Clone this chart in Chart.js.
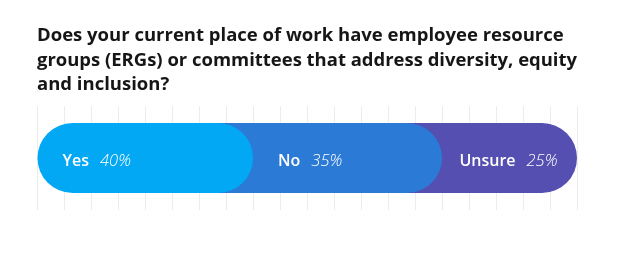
<!DOCTYPE html>
<html>
<head>
<meta charset="utf-8">
<script src="https://cdn.jsdelivr.net/npm/chart.js@4/dist/chart.umd.min.js"></script>
<style>
  html,body{margin:0;padding:0;background:#fff;}
  #wrap{position:relative;width:623px;height:271px;}
</style>
</head>
<body>
<div id="wrap"><canvas id="c" width="623" height="271"></canvas></div>
<script>
const titleLines = [
  "Does your current place of work have employee resource",
  "groups (ERGs) or committees that address diversity, equity",
  "and inclusion?"
];
const categories = ["Yes", "No", "Unsure"];
const percents = [40, 35, 25];
const percentLabels = ["40%", "35%", "25%"];
const colors = ["#03a8f5", "#2a7ad6", "#544fb1"];

const FAMILY = '"Open Sans", Lato, sans-serif';

// fit title font so that the first line is ~527px wide
const mctx = document.createElement('canvas').getContext('2d');
mctx.font = 'bold 100px ' + FAMILY;
const titleSize = Math.round(100 * 527 / mctx.measureText(titleLines[0]).width * 10) / 10;

// Each segment is a rounded pill; later segments start halfway under the previous one
let cum = 0;
const datasets = categories.map((cat, i) => {
  const start = i === 0 ? 0 : cum - percents[i - 1] / 2;
  const end = cum + percents[i];
  cum = end;
  return {
    label: cat,
    data: [[start, end]],
    backgroundColor: colors[i],
    borderWidth: 0,
    borderSkipped: false,
    borderRadius: i === 0
      ? {topLeft: 40, bottomLeft: 40, topRight: 40, bottomRight: 40}
      : {topLeft: 0, bottomLeft: 0, topRight: 40, bottomRight: 40},
    barThickness: 70,
    grouped: false,
    inflateAmount: 0
  };
});

const labelPlugin = {
  id: 'segLabels',
  afterDatasetsDraw(chart) {
    const ctx = chart.ctx;
    ctx.save();
    const n = categories.length;
    let prevEnd = null;
    for (let i = 0; i < n; i++) {
      const bar = chart.getDatasetMeta(i).data[0];
      const visStart = i === 0 ? bar.base : prevEnd;
      const end = bar.x;
      const y = bar.y + 8;
      const fb = '600 16px ' + FAMILY;
      const fi = 'italic 300 16.5px ' + FAMILY;
      ctx.font = fb;
      const w1 = ctx.measureText(categories[i]).width;
      ctx.font = fi;
      const w2 = ctx.measureText(percentLabels[i]).width;
      const gap = 11;
      const x = (i < n - 1) ? visStart + 25 : end - 19.5 - (w1 + gap + w2);
      ctx.fillStyle = '#ffffff';
      ctx.textBaseline = 'alphabetic';
      ctx.textAlign = 'left';
      ctx.font = fb;
      ctx.fillText(categories[i], x, y);
      ctx.font = fi;
      ctx.fillText(percentLabels[i], x + w1 + gap, y);
      prevEnd = end;
    }
    ctx.restore();
  }
};

new Chart(document.getElementById('c'), {
  type: 'bar',
  data: { labels: ["Response"], datasets },
  options: {
    indexAxis: 'y',
    responsive: false,
    animation: false,
    layout: { padding: { left: 37, right: 46, top: 0, bottom: 61 } },
    scales: {
      x: {
        min: 0, max: 100,
        ticks: { display: false, stepSize: 5 },
        grid: { color: '#ececec', lineWidth: 1, drawTicks: false },
        border: { display: false }
      },
      y: { display: false }
    },
    plugins: {
      legend: { display: false },
      tooltip: { enabled: false },
      title: {
        display: true,
        text: titleLines,
        align: 'start',
        color: '#161616',
        font: { family: FAMILY, size: titleSize, weight: 'bold', lineHeight: '24.5px' },
        padding: { top: 23.5, bottom: 9 }
      }
    }
  },
  plugins: [labelPlugin]
});
</script>
</body>
</html>
